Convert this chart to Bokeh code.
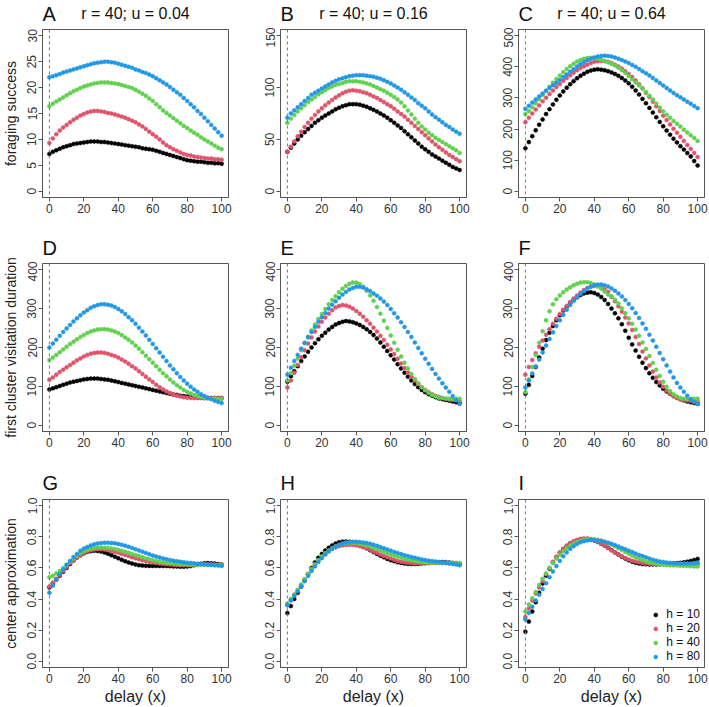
import math

from bokeh.plotting import figure
from bokeh.layouts import gridplot, row
from bokeh.models import (Range1d, Span, Legend, LegendItem,
                          FixedTicker, PrintfTickFormatter)
from bokeh.core.properties import value
from bokeh.embed import file_html
from bokeh.resources import INLINE

# ---------------------------------------------------------------- data
delay = list(range(0, 101, 2))
h_labels = ["h = 10", "h = 20", "h = 40", "h = 80"]
h_colors = ["#000000", "#DF536B", "#61D04F", "#2297E6"]
headers = ["r = 40; u = 0.04", "r = 40; u = 0.16", "r = 40; u = 0.64"]
row_titles = ["foraging success", "first cluster visitation duration", "center approximation"]
letters = ["A", "B", "C", "D", "E", "F", "G", "H", "I"]

# foraging success, u = 0.04
forage_u004_h10 = [7.2,7.6,7.9,8.2,8.5,8.7,8.9,9.1,9.2,9.3,9.4,9.5,9.6,9.6,9.6,9.5,9.5,9.4,9.3,9.2,9.1,9.0,8.9,8.8,8.7,8.6,8.5,8.3,8.2,8.1,8.0,7.8,7.6,7.4,7.2,7.0,6.8,6.6,6.4,6.2,6.0,5.9,5.8,5.7,5.7,5.6,5.5,5.5,5.4,5.4,5.3]
forage_u004_h20 = [9.3,10.2,11.0,11.7,12.3,12.8,13.3,13.8,14.2,14.6,14.9,15.2,15.4,15.5,15.5,15.4,15.3,15.1,15.0,14.8,14.6,14.4,14.2,13.9,13.6,13.3,12.9,12.5,12.0,11.5,11.0,10.5,10.0,9.4,8.9,8.5,8.1,7.8,7.5,7.2,7.0,6.9,6.7,6.6,6.5,6.4,6.3,6.3,6.2,6.2,6.1]
forage_u004_h40 = [16.4,16.9,17.3,17.7,18.1,18.5,18.9,19.3,19.6,19.9,20.2,20.4,20.6,20.8,20.9,21.0,21.0,21.0,20.9,20.8,20.7,20.5,20.3,20.1,19.9,19.6,19.2,18.8,18.4,17.9,17.4,16.8,16.2,15.6,15.1,14.6,14.1,13.6,13.1,12.6,12.2,11.7,11.3,10.9,10.4,10.0,9.6,9.2,8.8,8.4,8.1]
forage_u004_h80 = [22.0,22.2,22.4,22.6,22.9,23.1,23.3,23.5,23.7,23.9,24.1,24.3,24.5,24.7,24.8,24.9,25.0,25.0,24.9,24.8,24.6,24.4,24.2,24.0,23.8,23.5,23.3,23.0,22.8,22.5,22.2,21.8,21.4,21.0,20.6,20.1,19.6,19.1,18.6,18.0,17.4,16.8,16.2,15.5,14.9,14.2,13.5,12.8,12.1,11.4,10.7]

# foraging success, u = 0.16
forage_u016_h10 = [38,42,46,50,53.5,57,60,63,66,68.5,71,73,75,77,79,80.5,82,83,84,84,84,83.5,82.5,81.5,80,78.5,77,75,73,71,68.5,66,63.5,61,58,55,52,49,46,43,40.5,38,35.5,33.5,31.5,29.5,27.5,25.5,23.5,22,20.5]
forage_u016_h20 = [38,43,48,53,57.5,62,66,70,73.5,77,80,83,85.5,88,90.5,92.5,94.5,96,97,97.5,97,96.5,95.5,94.5,93,91.5,90,88,86,84,82,79.5,77,74.5,72,69,66,63,60,57,54,51,48,45,42.5,40,37.5,35,33,31,29]
forage_u016_h40 = [66,70,73.5,77,80,83,86,88.5,91,93.5,95.5,97.5,99.5,101,102.5,103.5,104.5,105.5,106,106,106,105.5,105,104,103,101.5,100,98.5,97,95,93,91,88.5,85.5,82,78,74,70,66,62.5,59.5,56.5,54,51.5,49.5,47.5,45.5,43.5,41.5,39.5,37]
forage_u016_h80 = [71,75,78,81,84,87,90,93,95,97,99,101,103,105,106.5,108,109,110,111,111.5,112,112,112,111.5,111,110.5,109.5,108.5,107,105.5,104,102,100,98,95.5,93,90.5,88,85,82.5,80,77,74,71.5,69,66.5,64,62,59.5,57.5,55.5]

# foraging success, u = 0.64
forage_u064_h10 = [138,158,177,196,214,231,248,264,279,294,308,321,333,344,354,363,371,378,384,388,391,392,391,389,386,382,377,371,364,356,347,336,324,311,297,283,268,253,238,223,209,195,182,169,157,145,134,123,112,97,83]
forage_u064_h20 = [222,236,250,263,276,289,301,313,324,335,345,355,364,373,381,389,396,402,407,412,416,418,419,418,416,412,407,401,394,386,377,367,356,344,331,317,303,288,273,258,243,229,215,201,188,175,162,149,136,123,110]
forage_u064_h40 = [248,258,270,283,296,310,323,336,349,361,372,383,393,402,410,417,422,426,428,429,428,426,423,419,415,410,404,397,389,380,370,360,350,340,330,319,307,295,282,269,257,246,236,226,217,208,198,189,180,171,162]
forage_u064_h80 = [265,275,285,295,305,314,323,332,341,349,358,367,375,384,392,401,408,415,421,426,430,433,435,436,435,433,430,426,422,417,412,406,400,393,386,379,372,364,356,348,340,332,324,316,309,302,295,288,281,274,267]

# first cluster visitation duration, u = 0.04
visit_u004_h10 = [92,95,98,101,104,107,110,112,114,116,118,119,120,120,120,119,118,117,115,113,111,109,107,105,103,101,99,97,95,93,91,89,87,85,83,81,79,78,76,75,74,73,72,71,71,70,70,70,70,70,70]
visit_u004_h20 = [117,123,130,137,143,149,155,161,167,172,177,181,184,186,187,187,186,184,181,178,174,169,164,158,152,146,139,132,125,118,111,104,98,92,87,83,79,76,74,72,71,70,70,70,70,70,70,70,70,70,70]
visit_u004_h40 = [168,174,181,188,195,202,209,215,221,227,232,237,241,244,246,247,247,246,244,241,237,232,226,220,213,205,197,188,179,170,161,152,143,134,126,118,110,103,97,91,86,82,78,75,73,71,70,69,69,68,68]
visit_u004_h80 = [200,210,220,230,240,249,258,267,275,283,290,296,302,306,309,311,311,310,308,304,299,293,286,278,270,261,251,241,231,220,209,198,187,176,165,154,144,134,124,115,107,99,92,86,80,75,71,67,63,60,57]

# first cluster visitation duration, u = 0.16
visit_u016_h10 = [112,126,139,152,165,177,189,200,211,221,230,238,246,253,259,263,266,268,267,265,262,258,253,247,240,232,223,213,202,191,180,169,157,146,135,125,115,106,98,91,85,80,76,72,69,67,65,63,61,59,57]
visit_u016_h20 = [97,115,135,155,175,193,210,226,241,254,266,277,287,296,303,307,309,308,305,300,294,287,279,270,261,251,241,230,219,207,195,183,171,159,147,136,125,115,106,98,91,85,80,76,73,70,68,66,65,64,63]
visit_u016_h40 = [115,134,153,172,193,211,228,244,259,273,286,299,311,322,332,342,351,358,364,367,367,363,356,346,334,320,304,287,269,250,231,212,194,177,161,146,132,119,108,98,90,83,78,74,71,70,69,68,68,68,68]
visit_u016_h80 = [130,148,165,181,197,212,226,240,253,266,278,289,300,310,319,328,336,343,349,353,356,356,354,350,345,339,333,326,318,309,299,288,277,265,253,240,227,213,199,185,171,158,145,132,120,108,97,86,75,65,55]

# first cluster visitation duration, u = 0.64
visit_u064_h10 = [81,104,127,150,174,197,219,238,255,270,283,295,305,314,322,329,335,339,341,342,340,336,330,322,312,300,288,275,260,243,225,208,192,176,161,147,134,122,111,102,94,87,81,76,71,67,64,61,59,57,55]
visit_u064_h20 = [130,150,168,185,202,218,233,247,261,274,286,297,307,317,326,334,341,348,353,357,359,358,355,350,343,330,319,306,292,277,262,245,227,209,190,172,154,138,123,110,99,89,81,74,70,67,65,64,63,62,62]
visit_u064_h40 = [85,118,150,181,212,242,270,293,311,324,334,342,349,355,360,364,367,368,368,366,362,357,351,344,336,332,323,313,301,288,275,261,246,230,213,196,178,160,143,127,112,99,88,80,74,70,68,67,67,68,68]
visit_u064_h80 = [97,115,133,151,169,187,205,222,239,255,270,284,297,309,320,329,338,345,351,356,360,362,362,360,357,352,346,339,331,322,312,301,289,276,262,248,233,218,202,186,170,154,138,123,109,97,86,76,67,60,55]

# center approximation, u = 0.04
center_u004_h10 = [0.475,0.5,0.525,0.55,0.575,0.6,0.625,0.648,0.667,0.682,0.694,0.703,0.708,0.71,0.709,0.705,0.699,0.691,0.682,0.672,0.662,0.652,0.643,0.635,0.628,0.622,0.618,0.615,0.614,0.613,0.613,0.613,0.613,0.612,0.612,0.611,0.61,0.609,0.608,0.608,0.609,0.612,0.617,0.622,0.627,0.63,0.631,0.63,0.628,0.625,0.622]
center_u004_h20 = [0.48,0.505,0.53,0.555,0.58,0.605,0.63,0.65,0.668,0.683,0.696,0.706,0.713,0.718,0.72,0.72,0.718,0.714,0.709,0.703,0.697,0.69,0.683,0.676,0.669,0.662,0.656,0.65,0.645,0.64,0.636,0.632,0.629,0.626,0.624,0.622,0.62,0.619,0.618,0.618,0.618,0.619,0.62,0.621,0.622,0.623,0.623,0.623,0.622,0.621,0.62]
center_u004_h40 = [0.54,0.55,0.565,0.58,0.6,0.62,0.64,0.66,0.678,0.694,0.706,0.716,0.723,0.728,0.73,0.731,0.73,0.728,0.725,0.721,0.716,0.71,0.704,0.697,0.69,0.683,0.676,0.669,0.662,0.656,0.65,0.645,0.64,0.636,0.633,0.63,0.628,0.626,0.624,0.623,0.622,0.621,0.62,0.62,0.62,0.62,0.619,0.619,0.618,0.618,0.617]
center_u004_h80 = [0.44,0.485,0.525,0.56,0.59,0.62,0.645,0.67,0.69,0.71,0.725,0.735,0.745,0.752,0.757,0.76,0.762,0.762,0.761,0.758,0.754,0.749,0.743,0.736,0.728,0.72,0.712,0.704,0.696,0.688,0.68,0.673,0.667,0.661,0.656,0.651,0.647,0.643,0.64,0.637,0.634,0.632,0.63,0.627,0.625,0.623,0.621,0.619,0.617,0.615,0.613]

# center approximation, u = 0.16
center_u016_h10 = [0.31,0.355,0.4,0.44,0.48,0.52,0.56,0.6,0.635,0.665,0.69,0.712,0.73,0.745,0.757,0.765,0.769,0.77,0.768,0.763,0.756,0.747,0.737,0.726,0.714,0.702,0.69,0.679,0.668,0.658,0.65,0.643,0.637,0.632,0.628,0.626,0.625,0.625,0.626,0.628,0.63,0.632,0.634,0.636,0.637,0.638,0.637,0.635,0.632,0.629,0.626]
center_u016_h20 = [0.365,0.395,0.425,0.455,0.49,0.525,0.56,0.593,0.623,0.65,0.673,0.693,0.709,0.722,0.732,0.74,0.745,0.748,0.749,0.748,0.745,0.74,0.734,0.726,0.717,0.707,0.697,0.687,0.677,0.668,0.66,0.652,0.645,0.64,0.636,0.633,0.631,0.63,0.63,0.63,0.63,0.631,0.632,0.632,0.633,0.633,0.633,0.632,0.632,0.631,0.63]
center_u016_h40 = [0.37,0.4,0.43,0.46,0.493,0.527,0.56,0.592,0.622,0.649,0.673,0.694,0.712,0.727,0.739,0.748,0.755,0.76,0.762,0.762,0.76,0.756,0.751,0.745,0.738,0.73,0.722,0.713,0.704,0.695,0.687,0.679,0.672,0.665,0.659,0.654,0.649,0.645,0.641,0.638,0.636,0.634,0.633,0.632,0.631,0.631,0.631,0.631,0.631,0.631,0.631]
center_u016_h80 = [0.36,0.39,0.42,0.45,0.482,0.515,0.548,0.58,0.61,0.638,0.663,0.686,0.706,0.723,0.737,0.748,0.757,0.763,0.767,0.769,0.769,0.767,0.764,0.76,0.755,0.749,0.742,0.735,0.727,0.719,0.711,0.703,0.696,0.689,0.682,0.676,0.67,0.665,0.66,0.655,0.651,0.647,0.644,0.641,0.638,0.635,0.632,0.629,0.626,0.622,0.618]

# center approximation, u = 0.64
center_u064_h10 = [0.19,0.255,0.32,0.38,0.44,0.5,0.55,0.595,0.635,0.668,0.697,0.72,0.74,0.756,0.768,0.777,0.783,0.786,0.786,0.783,0.777,0.768,0.757,0.744,0.73,0.715,0.7,0.686,0.672,0.66,0.649,0.64,0.633,0.628,0.625,0.623,0.622,0.622,0.622,0.623,0.624,0.625,0.627,0.629,0.631,0.633,0.636,0.64,0.645,0.651,0.658]
center_u064_h20 = [0.285,0.34,0.39,0.435,0.475,0.515,0.56,0.6,0.64,0.672,0.7,0.724,0.744,0.76,0.772,0.781,0.787,0.79,0.789,0.785,0.777,0.767,0.755,0.742,0.728,0.714,0.7,0.687,0.675,0.664,0.655,0.647,0.641,0.636,0.632,0.629,0.627,0.626,0.625,0.625,0.625,0.625,0.625,0.625,0.625,0.625,0.625,0.625,0.625,0.625,0.625]
center_u064_h40 = [0.32,0.365,0.405,0.445,0.49,0.53,0.565,0.6,0.632,0.66,0.685,0.707,0.726,0.742,0.756,0.767,0.775,0.781,0.784,0.785,0.784,0.781,0.776,0.769,0.76,0.75,0.739,0.727,0.715,0.703,0.691,0.68,0.669,0.659,0.65,0.642,0.636,0.631,0.627,0.624,0.621,0.619,0.617,0.616,0.615,0.614,0.613,0.612,0.611,0.61,0.609]
center_u064_h80 = [0.27,0.31,0.35,0.39,0.428,0.465,0.502,0.54,0.577,0.612,0.645,0.675,0.7,0.722,0.74,0.754,0.765,0.772,0.777,0.779,0.779,0.777,0.773,0.768,0.762,0.755,0.747,0.738,0.729,0.72,0.711,0.702,0.693,0.684,0.676,0.668,0.66,0.653,0.647,0.642,0.638,0.635,0.632,0.63,0.629,0.628,0.628,0.628,0.629,0.631,0.634]

panel_series = [
    [forage_u004_h10, forage_u004_h20, forage_u004_h40, forage_u004_h80],
    [forage_u016_h10, forage_u016_h20, forage_u016_h40, forage_u016_h80],
    [forage_u064_h10, forage_u064_h20, forage_u064_h40, forage_u064_h80],
    [visit_u004_h10, visit_u004_h20, visit_u004_h40, visit_u004_h80],
    [visit_u016_h10, visit_u016_h20, visit_u016_h40, visit_u016_h80],
    [visit_u064_h10, visit_u064_h20, visit_u064_h40, visit_u064_h80],
    [center_u004_h10, center_u004_h20, center_u004_h40, center_u004_h80],
    [center_u016_h10, center_u016_h20, center_u016_h40, center_u016_h80],
    [center_u064_h10, center_u064_h20, center_u064_h40, center_u064_h80],
]

# y axis ticks per panel
panel_yticks = [
    [0, 5, 10, 15, 20, 25, 30],
    [0, 50, 100, 150],
    [0, 100, 200, 300, 400, 500],
    [0, 100, 200, 300, 400], [0, 100, 200, 300, 400], [0, 100, 200, 300, 400],
    [0.0, 0.2, 0.4, 0.6, 0.8, 1.0], [0.0, 0.2, 0.4, 0.6, 0.8, 1.0], [0.0, 0.2, 0.4, 0.6, 0.8, 1.0],
]
x_ticks = [0, 20, 40, 60, 80, 100]

# ---------------------------------------------------------------- layout
FONT = "Liberation Sans"
AXIS_GREY = "#555555"
PAGE_H = 707
TITLE_COL_W = 20                 # narrow column holding the row titles
FRAME_W, FRAME_H = 186, 168
BORDER_LEFT = [42 - TITLE_COL_W, 42, 42]
BORDER_RIGHT = [10, 10, 5]
STRIP_H = 27                     # heading strip above each panel
PANEL_TOP = 2
BORDER_BOTTOM = [37, 39, 40]
LETTER_BASE = [14, 14, 15]       # baseline height of the panel letter inside its strip
HEADER_BASE = 14.5
FRAME_TOPS = [29, 263, 499]      # top of each row's plotting frame on the page


def padded(lo, hi):
    pad = 0.04 * (hi - lo)
    return Range1d(lo - pad, hi + pad)


def make_title_column():
    """Narrow column on the left with the rotated row titles."""
    t = figure(width=TITLE_COL_W, height=PAGE_H,
               x_range=Range1d(0, TITLE_COL_W), y_range=Range1d(0, PAGE_H),
               x_axis_type=None, y_axis_type=None,
               output_backend="svg", toolbar_location=None,
               min_border_left=0, min_border_right=0,
               min_border_top=0, min_border_bottom=0)
    t.outline_line_color = None
    t.xgrid.visible = False
    t.ygrid.visible = False
    centers = [PAGE_H - (top + FRAME_H / 2) for top in FRAME_TOPS]
    t.text(x=[10, 10, 10], y=centers, text=row_titles, angle=math.pi / 2,
           text_font=value(FONT), text_font_size="14px", text_color="#222222",
           text_align="center", text_baseline="middle")
    return t


def make_strip(idx):
    """Thin heading strip holding the panel letter (and the column header)."""
    r, col = divmod(idx, 3)
    s = figure(width=BORDER_LEFT[col] + FRAME_W + BORDER_RIGHT[col], height=STRIP_H,
               x_range=Range1d(0, FRAME_W), y_range=Range1d(0, STRIP_H),
               x_axis_type=None, y_axis_type=None,
               output_backend="svg", toolbar_location=None,
               min_border_left=BORDER_LEFT[col], min_border_right=BORDER_RIGHT[col],
               min_border_top=0, min_border_bottom=0)
    s.outline_line_color = None
    s.xgrid.visible = False
    s.ygrid.visible = False
    s.text(x=[0], y=[LETTER_BASE[r]], text=[letters[idx]],
           text_font=value(FONT), text_font_size="20px", text_color="#111111",
           text_align="left", text_baseline="alphabetic")
    if r == 0:
        s.text(x=[FRAME_W / 2], y=[HEADER_BASE], text=[headers[col]],
               text_font=value(FONT), text_font_size="16px", text_color="#111111",
               text_align="center", text_baseline="alphabetic")
    return s


def make_panel(idx):
    r, col = divmod(idx, 3)
    ticks = panel_yticks[idx]
    yr = padded(ticks[0], ticks[-1])
    xr = padded(0, 100)
    p = figure(width=BORDER_LEFT[col] + FRAME_W + BORDER_RIGHT[col],
               height=PANEL_TOP + FRAME_H + BORDER_BOTTOM[r],
               x_range=xr, y_range=yr,
               output_backend="svg", toolbar_location=None,
               min_border_left=BORDER_LEFT[col], min_border_right=BORDER_RIGHT[col],
               min_border_top=PANEL_TOP, min_border_bottom=BORDER_BOTTOM[r])
    p.xgrid.visible = False
    p.ygrid.visible = False
    p.outline_line_color = AXIS_GREY
    p.outline_line_width = 1

    for ax in (p.xaxis[0], p.yaxis[0]):
        ax.axis_line_color = AXIS_GREY
        ax.major_tick_line_color = AXIS_GREY
        ax.major_tick_out = 4
        ax.major_tick_in = 0
        ax.minor_tick_line_color = None
        ax.major_label_text_font = FONT
        ax.major_label_text_font_size = "12px"
        ax.major_label_text_color = "#333333"
        ax.major_label_standoff = 2
        ax.axis_label_text_font = FONT
        ax.axis_label_text_font_style = "normal"
        ax.axis_label_text_color = "#222222"

    p.xaxis.ticker = FixedTicker(ticks=x_ticks)
    p.yaxis.ticker = FixedTicker(ticks=ticks)
    p.yaxis.major_label_orientation = "vertical"
    if r == 2:
        p.yaxis.formatter = PrintfTickFormatter(format="%.1f")
        p.xaxis.axis_label = "delay (x)"
        p.xaxis.axis_label_text_font_size = "16px"
        p.xaxis.axis_label_standoff = 2

    # vertical reference line at zero delay
    p.add_layout(Span(location=0, dimension="height", line_color="#777777",
                      line_dash="3 3", line_width=1))

    renderers = []
    for ys, color in zip(panel_series[idx], h_colors):
        assert len(ys) == len(delay)
        rend = p.scatter(delay, ys, size=4, fill_color=color, line_color=color,
                         line_width=0.5)
        renderers.append(rend)

    if idx == 8:
        items = [LegendItem(label=lab, renderers=[rend])
                 for lab, rend in zip(h_labels, renderers)]
        legend = Legend(items=items, location="bottom_right",
                        border_line_color=None, background_fill_alpha=0,
                        label_text_font=FONT, label_text_font_size="12px",
                        label_text_color="#111111",
                        glyph_width=10, glyph_height=13, label_height=13,
                        label_standoff=6, spacing=0, padding=0, margin=4)
        p.add_layout(legend)
    return p


grid_rows = []
for rr in range(3):
    grid_rows.append([make_strip(3 * rr + c) for c in range(3)])
    grid_rows.append([make_panel(3 * rr + c) for c in range(3)])

grid = gridplot(grid_rows, toolbar_location=None)
page = row(make_title_column(), grid, spacing=0)

open("out.html", "w").write(file_html(page, INLINE))
